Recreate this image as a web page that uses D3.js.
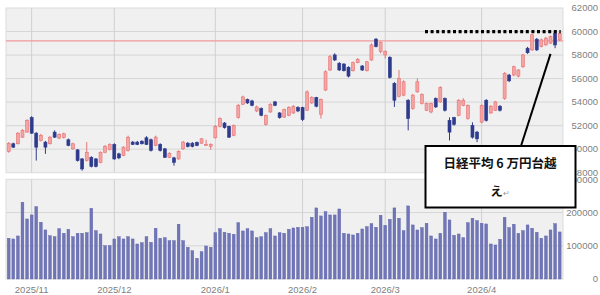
<!DOCTYPE html>
<html><head><meta charset="utf-8">
<script src="https://cdn.jsdelivr.net/npm/d3@7"></script>
<style>body{margin:0;background:#fff}svg{display:block}</style>
</head><body><svg id="c" width="600" height="295"></svg>
<script>
const dates = [
"2025/10/27","2025/10/28","2025/10/29","2025/10/30","2025/10/31",
"2025/11/04","2025/11/05","2025/11/06","2025/11/07","2025/11/10","2025/11/11","2025/11/12","2025/11/13","2025/11/14","2025/11/17","2025/11/18","2025/11/19","2025/11/20","2025/11/21","2025/11/25","2025/11/26","2025/11/27","2025/11/28",
"2025/12/01","2025/12/02","2025/12/03","2025/12/04","2025/12/05","2025/12/08","2025/12/09","2025/12/10","2025/12/11","2025/12/12","2025/12/15","2025/12/16","2025/12/17","2025/12/18","2025/12/19","2025/12/22","2025/12/23","2025/12/24","2025/12/25","2025/12/26","2025/12/29","2025/12/30",
"2026/01/05","2026/01/06","2026/01/07","2026/01/08","2026/01/09","2026/01/13","2026/01/14","2026/01/15","2026/01/16","2026/01/19","2026/01/20","2026/01/21","2026/01/22","2026/01/23","2026/01/26","2026/01/27","2026/01/28","2026/01/29","2026/01/30",
"2026/02/02","2026/02/03","2026/02/04","2026/02/05","2026/02/06","2026/02/09","2026/02/10","2026/02/12","2026/02/13","2026/02/16","2026/02/17","2026/02/18","2026/02/19","2026/02/20","2026/02/24","2026/02/25","2026/02/26","2026/02/27",
"2026/03/02","2026/03/03","2026/03/04","2026/03/05","2026/03/06","2026/03/09","2026/03/10","2026/03/11","2026/03/12","2026/03/13","2026/03/16","2026/03/17","2026/03/18","2026/03/19","2026/03/23","2026/03/24","2026/03/25","2026/03/26","2026/03/27","2026/03/30","2026/03/31",
"2026/04/01","2026/04/02","2026/04/03","2026/04/06","2026/04/07","2026/04/08","2026/04/09","2026/04/10","2026/04/13","2026/04/14","2026/04/15","2026/04/16","2026/04/17","2026/04/20","2026/04/21","2026/04/22","2026/04/23","2026/04/24"];

const open = [49800,50460,50460,51020,51450,52680,51360,50740,50600,50460,51450,50940,51000,50800,50030,49940,49170,49030,49310,49170,48880,49740,49970,
50400,49600,49460,49890,50600,50600,50680,50970,50800,50310,50400,50030,49310,49260,49170,50030,50510,50510,50570,50510,50400,50230,
50970,51940,52220,51940,51170,52680,53820,54220,54100,53250,53450,52110,53160,54020,53080,52730,52880,53080,53540,
53540,53310,53930,54390,52970,55020,56730,58010,57300,57240,56960,56670,57350,57070,56670,57580,59350,58290,
58010,57810,55590,54500,54590,54160,53450,54870,53880,53310,53160,54300,54020,54300,52450,52680,52880,53730,52600,52020,51450,
52300,54160,53080,53310,53650,54300,56300,56300,56210,57010,58580,58440,59350,58720,58860,59010,59860,59290];
const close = [50480,50170,51360,51600,52450,51360,50170,51170,50170,51020,51020,51260,51310,50310,50460,49030,48320,49740,48540,48540,49740,50250,50400,
49170,49260,50170,51020,50400,50400,50460,50400,49890,51020,49890,49310,49650,48880,49800,50600,50230,50230,50310,50880,50400,50400,
51940,52600,51830,51020,52020,53730,54440,53930,53730,53590,52880,52880,53820,53730,52680,53370,53540,53650,53250,
52510,54870,54390,53650,54220,56580,57860,57580,56730,56670,56210,57350,57640,56730,57430,58860,58720,59060,
58290,56100,54160,56020,55730,52600,54590,55730,54650,53880,53880,53590,55240,53310,51450,52110,54160,54160,53730,51020,50880,
53730,52450,53650,54020,53310,56440,55810,57010,56730,58010,58200,59720,58440,59290,59440,59570,58860,59860];
const high = [50600,50550,51450,51700,52550,52800,51450,51300,50700,51100,51600,51350,51400,50900,50550,50000,49250,50600,49400,49250,49800,50350,50500,
50500,49700,50250,51150,50700,50700,50750,51100,50900,51150,50500,50100,49750,49350,49900,50700,50600,50600,50650,50950,50800,50500,
52050,52700,52300,52000,52100,53850,54550,54300,54200,53700,53550,52950,53900,54100,53150,53450,53650,53750,53650,
53600,55000,54500,54450,54300,56700,58000,58150,57400,57300,57050,57450,57750,57150,57500,59000,59450,59150,
58400,57900,55700,56730,55850,54250,54700,56020,54750,53950,53950,54400,55350,54400,52700,52750,54250,54330,53800,52280,51550,
53800,54250,53750,54100,53750,56550,56400,57100,56800,58100,58700,59800,59450,59400,59550,59650,60090,59950];
const low = [49700,50100,50400,50950,51400,51300,49030,50650,49600,50400,50950,50850,50900,50250,49950,48950,48170,48950,48450,48450,48800,49650,49900,
49100,49150,49400,49800,50350,50350,50400,50350,49800,50250,49800,49250,49250,48600,49100,49950,50150,50150,50250,50450,50300,49950,
50900,51850,51750,50950,51100,52600,53750,53850,53650,53150,52800,52000,53100,53650,52600,52650,52800,53000,53150,
52400,53250,53850,53550,52600,54950,56650,57500,56650,56600,56100,56600,57300,56650,56600,57500,58650,58150,
57700,56000,53590,54400,54500,51600,53350,54800,53800,53250,53050,53500,53950,53200,50740,52000,52800,53650,52500,50900,50600,
52200,52350,53000,53250,53200,54200,55700,56200,56100,56900,58100,58350,58350,58650,58800,58950,58580,59200];
const volume = [122600,120500,129500,231000,180700,192800,217800,170800,147600,130400,127400,151500,137600,149700,127400,137600,137600,139500,212900,145500,135500,100300,100300,
120500,127400,120500,127400,120500,105400,109300,127400,110500,152700,122600,124400,115400,115400,164800,115400,95500,85200,62300,82200,99400,95500,
139500,151500,140700,137600,134600,169600,144600,151500,144600,124400,127400,139500,151500,129500,139500,137600,149700,153600,155700,
155700,157500,185800,213900,189800,202700,192800,192800,210800,137600,135500,132500,137600,150600,157500,166600,155700,191900,
161700,179800,213900,182800,145500,219900,162700,147600,154600,167700,129500,120500,137600,200800,177700,131500,135500,124400,169600,182800,175700,
167700,165700,105400,102400,119500,185800,154600,164800,137600,145500,162700,152700,140700,122600,129500,147600,166600,141600];

const priceTicks = [48000,50000,52000,54000,56000,58000,60000,62000];
const volumeTicks = [0,100000,200000,300000];
const refLevel = 59200;
const targetLevel = 60000;
const noteLine1 = "日経平均 6 万円台越";
const noteLine2 = "え";
const noteMark = "↵";
const noteTargetIndex = 118;
const noteTargetLevel = 58100;

const svg = d3.select("#c");
const L = 6, R = 563;
const P = {top: 8, bottom: 172.7};
const V = {top: 179.3, bottom: 279};

const x = d3.scaleBand().domain(d3.range(dates.length)).range([6.4, 562]);
const cx = i => x(i) + x.bandwidth()/2;
const y = d3.scaleLinear().domain([48000, 62000]).range([P.bottom, P.top]);
const yv = d3.scaleLinear().domain([0, 300000]).range([V.bottom, V.top]);

// month starts
const monthStarts = dates.map((d,i)=>({d,i})).filter((o,k,a)=> k>0 && o.d.slice(0,7)!==a[k-1].d.slice(0,7));

// panels
[[P.top,P.bottom],[V.top,V.bottom]].forEach(([t,b])=>{
  svg.append("rect").attr("x",L).attr("y",t).attr("width",R-L).attr("height",b-t)
    .attr("fill","#f0f0f0").attr("stroke","#dcdcdc").attr("stroke-width",1);
});

// grids price
svg.append("g").selectAll("line").data(priceTicks.filter(v=>v>48000 && v<62000)).join("line")
  .attr("x1",L).attr("x2",R).attr("y1",d=>y(d)).attr("y2",d=>y(d))
  .attr("stroke","#d6d6d6").attr("stroke-width",1);
svg.append("g").selectAll("line").data(volumeTicks.filter(v=>v>0 && v<300000)).join("line")
  .attr("x1",L).attr("x2",R).attr("y1",d=>yv(d)).attr("y2",d=>yv(d))
  .attr("stroke","#d6d6d6").attr("stroke-width",1);
[[P.top,P.bottom],[V.top,V.bottom]].forEach(([t,b])=>{
  svg.append("g").selectAll("line").data(monthStarts).join("line")
    .attr("x1",d=>cx(d.i)).attr("x2",d=>cx(d.i)).attr("y1",t).attr("y2",b)
    .attr("stroke","#d0d0d0").attr("stroke-width",1);
});

// reference line
svg.append("line").attr("x1",L).attr("x2",R).attr("y1",y(refLevel)).attr("y2",y(refLevel))
  .attr("stroke","#f19a9a").attr("stroke-width",1.2);

// candles
const idx = d3.range(dates.length);
const up = i => close[i] >= open[i];
const cw = 3;
const cg = svg.append("g");
cg.selectAll("line").data(idx).join("line")
  .attr("x1",i=>cx(i)).attr("x2",i=>cx(i)).attr("y1",i=>y(high[i])).attr("y2",i=>y(low[i]))
  .attr("stroke",i=>up(i)?"#e57373":"#2e3a8c").attr("stroke-width",1);
cg.selectAll("rect").data(idx).join("rect")
  .attr("x",i=>cx(i)-cw/2).attr("width",cw)
  .attr("y",i=>y(Math.max(open[i],close[i])))
  .attr("height",i=>Math.max(1,Math.abs(y(open[i])-y(close[i]))))
  .attr("fill",i=>up(i)?"#f6a3a3":"#2e3a8c")
  .attr("stroke",i=>up(i)?"#e57373":"#2e3a8c").attr("stroke-width",0.6);

// volume
svg.append("g").selectAll("rect").data(idx).join("rect")
  .attr("x",i=>cx(i)-1.4).attr("width",2.8)
  .attr("y",i=>yv(volume[i])).attr("height",i=>yv(0)-yv(volume[i]))
  .attr("fill","#7076b8").attr("stroke","#5a60a6").attr("stroke-width",0.4);

// axis labels
const lab = svg.append("g").attr("font-family","Liberation Sans, Arial, sans-serif").attr("font-size",9.5).attr("fill","#808080");
lab.selectAll("text.p").data(priceTicks).join("text").attr("class","p")
  .attr("x",598).attr("y",d=>y(d)).attr("dy","0.35em").attr("text-anchor","end").text(d=>d);
lab.selectAll("text.v").data(volumeTicks).join("text").attr("class","v")
  .attr("x",598).attr("y",d=>yv(d)).attr("dy","0.35em").attr("text-anchor","end").text(d=>d);
lab.selectAll("text.m").data(monthStarts).join("text").attr("class","m")
  .attr("x",d=>cx(d.i)).attr("y",292.5).attr("text-anchor","middle")
  .text(d=>d.d.slice(0,4)+"/"+(+d.d.slice(5,7)));

// annotation: dotted target line
svg.append("line").attr("x1",425).attr("x2",cx(dates.length-1)+1).attr("y1",y(targetLevel)).attr("y2",y(targetLevel))
  .attr("stroke","#000").attr("stroke-width",3.2).attr("stroke-dasharray","3 2.6");

// callout pointer
svg.append("line").attr("x1",521).attr("y1",146).attr("x2",cx(noteTargetIndex)).attr("y2",y(noteTargetLevel))
  .attr("stroke","#000").attr("stroke-width",2);

// callout box
svg.append("rect").attr("x",425.5).attr("y",146).attr("width",150).attr("height",61.5)
  .attr("fill","#fff").attr("stroke","#000").attr("stroke-width",2);
const nt = svg.append("g").attr("font-family","Noto Sans CJK JP, sans-serif").attr("font-weight","bold").attr("fill","#111");
nt.append("text").attr("x",500).attr("y",168).attr("text-anchor","middle").attr("font-size",12.5).text(noteLine1);
const t2 = nt.append("text").attr("x",500).attr("y",195.5).attr("text-anchor","middle").attr("font-size",12.5);
t2.append("tspan").text(noteLine2);
t2.append("tspan").attr("font-weight","normal").attr("font-size",8).attr("fill","#999").text(noteMark);
</script></body></html>
